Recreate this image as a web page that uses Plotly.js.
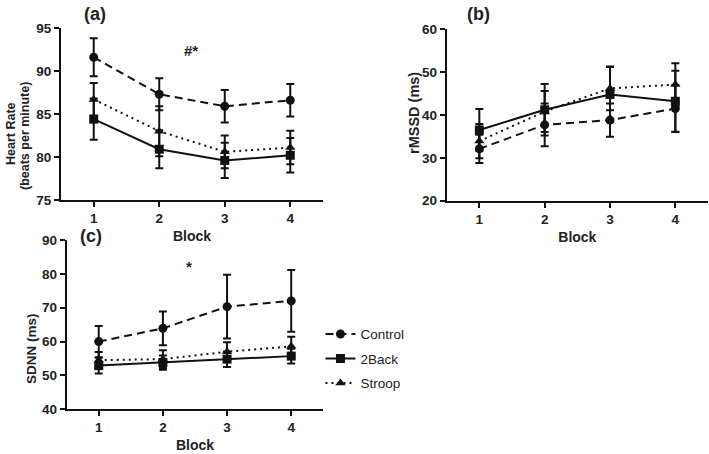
<!DOCTYPE html>
<html>
<head>
<meta charset="utf-8">
<script src="https://cdn.plot.ly/plotly-3.0.1.min.js"></script>
<style>html,body{margin:0;padding:0;background:#fff}#chart{width:709px;height:454px}</style>
</head>
<body>
<div id="chart"></div>
<script>
const blocks = [1, 2, 3, 4];
const seriesNames = ["Control", "2Back", "Stroop"];

// (a) Heart rate (beats per minute)
const hrControl = [91.6, 87.3, 85.9, 86.6];
const hrControlErr = [2.2, 1.85, 1.9, 1.9];
const hr2Back = [84.4, 80.9, 79.6, 80.2];
const hr2BackErr = [2.4, 2.2, 2.05, 2.0];
const hrStroop = [86.7, 83.0, 80.6, 81.1];
const hrStroopErr = [1.9, 2.9, 1.9, 1.95];

// (b) rMSSD (ms)
const rmControl = [32.1, 37.7, 38.8, 41.5];
const rmControlErr = [3.3, 5.0, 3.9, 5.5];
const rm2Back = [36.5, 41.2, 44.8, 43.2];
const rm2BackErr = [4.9, 6.0, 6.4, 7.1];
const rmStroop = [33.9, 40.8, 46.2, 47.1];
const rmStroopErr = [4.0, 4.8, 5.1, 5.0];

// (c) SDNN (ms)
const sdControl = [60.0, 63.9, 70.3, 72.0];
const sdControlErr = [4.6, 5.0, 9.4, 9.1];
const sd2Back = [52.9, 53.8, 54.8, 55.7];
const sd2BackErr = [2.3, 2.1, 2.3, 2.2];
const sdStroop = [54.5, 54.8, 57.0, 58.6];
const sdStroopErr = [2.4, 2.6, 2.8, 2.8];

const styles = {
  "Control": {symbol: "circle", dash: "8px,5px"},
  "2Back": {symbol: "square", dash: "solid"},
  "Stroop": {symbol: "triangle-up", dash: "2px,4px"}
};

function tr(name, y, err, xa, ya, showLegend) {
  const s = styles[name];
  return {
    type: "scatter", mode: "lines+markers", name: name,
    legendgroup: name,
    x: blocks, y: y, xaxis: xa, yaxis: ya,
    showlegend: showLegend, cliponaxis: false,
    line: {color: "#111", width: 2, dash: s.dash},
    marker: {color: "#111", size: 9, symbol: s.symbol},
    error_y: {type: "data", array: err, visible: true, color: "#111", thickness: 2, width: 4}
  };
}

const data = [
  tr("Control", hrControl, hrControlErr, "x", "y", false),
  tr("2Back", hr2Back, hr2BackErr, "x", "y", false),
  tr("Stroop", hrStroop, hrStroopErr, "x", "y", false),
  tr("Control", rmControl, rmControlErr, "x2", "y2", false),
  tr("2Back", rm2Back, rm2BackErr, "x2", "y2", false),
  tr("Stroop", rmStroop, rmStroopErr, "x2", "y2", false),
  tr("Control", sdControl, sdControlErr, "x3", "y3", true),
  tr("2Back", sd2Back, sd2BackErr, "x3", "y3", true),
  tr("Stroop", sdStroop, sdStroopErr, "x3", "y3", true)
];

const FONT = "Liberation Sans, Arial, sans-serif";
const tickFont = {family: FONT, size: 13.5, color: "#222", weight: "bold"};
const titleFont = {family: FONT, size: 14, color: "#222", weight: "bold"};

function xax(domain, anchor) {
  return {
    domain: domain, anchor: anchor, range: [0.5, 4.5], fixedrange: true,
    tickvals: blocks, ticktext: blocks.map(String),
    showline: true, linecolor: "#111", linewidth: 2,
    ticks: "outside", ticklen: 5, tickwidth: 2, tickcolor: "#111",
    showgrid: false, zeroline: false, tickfont: tickFont,
    title: {text: "Block", font: titleFont, standoff: 6}
  };
}
function yax(domain, anchor, range, dtick) {
  return {
    domain: domain, anchor: anchor, range: range, dtick: dtick, fixedrange: true,
    showline: true, linecolor: "#111", linewidth: 2,
    ticks: "outside", ticklen: 5, tickwidth: 2, tickcolor: "#111",
    showgrid: false, zeroline: false, tickfont: tickFont
  };
}

const ann = (text, x, y, size, angle) => ({
  text: text, xref: "paper", yref: "paper",
  x: x / 709, y: 1 - y / 454, xanchor: "center", yanchor: "middle",
  showarrow: false, textangle: angle || 0,
  font: {family: FONT, size: size, color: "#222", weight: "bold"}
});

const layout = {
  width: 709, height: 454,
  margin: {l: 0, r: 0, t: 0, b: 0},
  paper_bgcolor: "#fff", plot_bgcolor: "#fff",
  showlegend: true,
  xaxis: xax([0.086, 0.4556], "y"),
  yaxis: yax([0.5595, 0.9383], "x", [75, 95], 5),
  xaxis2: xax([0.630, 0.9986], "y2"),
  yaxis2: yax([0.558, 0.9355], "x2", [20, 60], 10),
  xaxis3: xax([0.094, 0.456], "y3"),
  yaxis3: yax([0.0985, 0.4714], "x3", [40, 90], 10),
  legend: {
    x: 0.452, y: 0.298, xanchor: "left", yanchor: "top",
    font: {family: FONT, size: 13.5, color: "#222"},
    bgcolor: "rgba(0,0,0,0)", traceorder: "grouped", tracegroupgap: 4, itemwidth: 30
  },
  annotations: [
    ann("(a)", 95, 14, 18),
    ann("(b)", 479, 14, 18),
    ann("(c)", 91, 236, 18),
    ann("#*", 191, 51, 15),
    ann("*", 189, 266, 15),
    ann("Heart Rate", 11, 134, 12.5, -90),
    ann("(beats per minute)", 25, 136, 12.5, -90),
    ann("rMSSD (ms)", 414, 113, 14.5, -90),
    ann("SDNN (ms)", 31, 349, 13.5, -90)
  ]
};

Plotly.newPlot("chart", data, layout, {staticPlot: true, displayModeBar: false});
</script>
</body>
</html>
